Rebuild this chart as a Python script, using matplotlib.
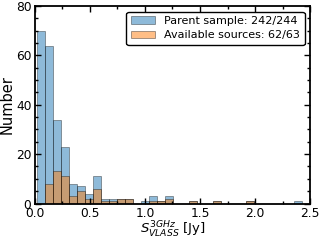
import numpy as np
import matplotlib
matplotlib.use('Agg')
import matplotlib.pyplot as plt
from matplotlib.ticker import MultipleLocator

# histogram bin edges (Jy) and counts
bin_edges = np.linspace(0.0182, 2.424, 34)
parent_counts = [70, 64, 34, 23, 8, 7, 4, 11, 2, 2, 2, 2, 0, 1, 3, 1, 3,
                 0, 0, 1, 0, 0, 1, 0, 0, 0, 1, 0, 0, 0, 0, 0, 1]
avail_counts = [0, 8, 13, 11, 3, 5, 2, 6, 1, 1, 2, 2, 0, 0, 1, 1, 2,
                0, 0, 1, 0, 0, 1, 0, 0, 0, 1, 0, 0, 0, 0, 0, 0]
labels = ['Parent sample: 242/244', 'Available sources: 62/63']

centers = 0.5 * (bin_edges[:-1] + bin_edges[1:])

fig = plt.figure(figsize=(3.2, 2.4), dpi=100)
ax = fig.add_axes([0.109, 0.152, 0.86, 0.823])

ax.hist(centers, bins=bin_edges, weights=parent_counts, color='C0',
        alpha=0.5, edgecolor='k', linewidth=0.5, label=labels[0])
ax.hist(centers, bins=bin_edges, weights=avail_counts, color='C1',
        alpha=0.5, edgecolor='k', linewidth=0.5, label=labels[1])

ax.set_xlim(0, 2.5)
ax.set_ylim(0, 80)
ax.xaxis.set_major_locator(MultipleLocator(0.5))
ax.xaxis.set_minor_locator(MultipleLocator(0.25))
ax.yaxis.set_major_locator(MultipleLocator(20))
ax.yaxis.set_minor_locator(MultipleLocator(5))
ax.tick_params(which='both', direction='in', top=True, right=True,
               labelsize=8.8, width=1, pad=2.5)
ax.tick_params(which='major', length=4)
ax.tick_params(which='minor', length=2)
for s in ax.spines.values():
    s.set_linewidth(1.3)

ax.set_xlabel(r'$S_{VLASS}^{3GHz}$ [Jy]', fontsize=9.5, labelpad=0)
ax.set_ylabel('Number', fontsize=10.5, labelpad=1)

leg = ax.legend(loc='upper right', fontsize=8, handlelength=2.2,
                borderpad=0.4, labelspacing=0.4, framealpha=1)
leg.get_frame().set_edgecolor('k')

fig.savefig('out.png', dpi=100)
